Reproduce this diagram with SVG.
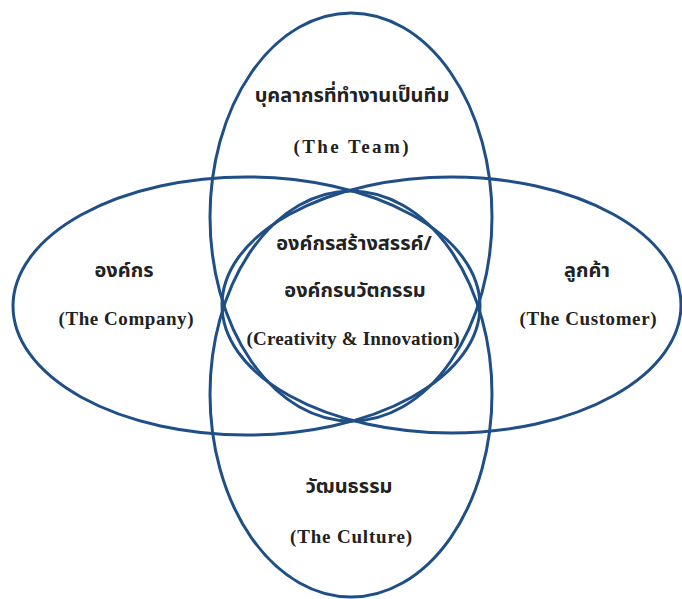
<svg xmlns="http://www.w3.org/2000/svg" width="682" height="599" viewBox="0 0 682 599">
<style>
.ell{fill:none;stroke:#1f4f86;stroke-width:3}
.th{font-family:"Noto Sans Thai","Noto Sans","DejaVu Sans","Liberation Sans",sans-serif;font-size:20px;font-weight:bold;fill:#222;text-anchor:middle}
.en{font-family:"Liberation Serif",serif;font-weight:bold;font-size:19px;fill:#222;text-anchor:middle}
</style>
<rect width="682" height="599" fill="#ffffff"/>
<g id="connectors"></g>
<g id="team">
<ellipse class="ell" cx="351" cy="217" rx="141" ry="204"/>
<text class="th" x="352" y="102">บุคลากรที่ทำงานเป็นทีม</text>
<text class="en" x="351" y="153" textLength="115">(The Team)</text>
</g>
<g id="culture">
<ellipse class="ell" cx="351" cy="394" rx="141" ry="203"/>
<text class="th" x="349" y="493">วัฒนธรรม</text>
<text class="en" x="351" y="543" textLength="122">(The Culture)</text>
</g>
<g id="company">
<ellipse class="ell" cx="246.5" cy="306" rx="233.5" ry="129"/>
<text class="th" x="124" y="277">องค์กร</text>
<text class="en" x="126" y="325" textLength="135">(The Company)</text>
</g>
<g id="customer">
<ellipse class="ell" cx="451.5" cy="305" rx="229.5" ry="128"/>
<text class="th" x="587" y="277">ลูกค้า</text>
<text class="en" x="588" y="325" textLength="137">(The Customer)</text>
</g>
<g id="center">
<text class="th" x="354" y="250">องค์กรสร้างสรรค์/</text>
<text class="th" x="355" y="297">องค์กรนวัตกรรม</text>
<text class="en" x="353" y="345" textLength="213">(Creativity &amp; Innovation)</text>
</g>
</svg>
